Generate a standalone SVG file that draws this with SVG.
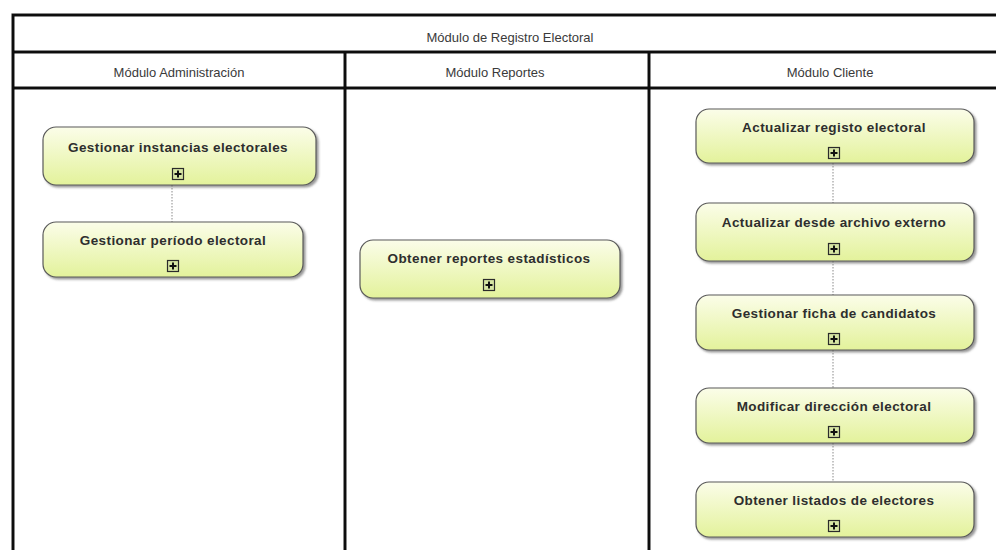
<svg xmlns="http://www.w3.org/2000/svg" width="996" height="550" viewBox="0 0 996 550">
  <defs>
    <linearGradient id="nodeFill" x1="0" y1="0" x2="0" y2="1">
      <stop offset="0" stop-color="#fbfde9"/>
      <stop offset="1" stop-color="#e3f29b"/>
    </linearGradient>
    <filter id="shadow" x="-5%" y="-10%" width="115%" height="130%">
      <feDropShadow dx="2" dy="2" stdDeviation="1.2" flood-color="#444" flood-opacity="0.55"/>
    </filter>
    <filter id="soft" x="-1%" y="-1%" width="102%" height="102%">
      <feGaussianBlur stdDeviation="0.5"/>
    </filter>
    <!-- expand marker: small boxed plus sign -->
    <g id="expand">
      <rect x="-5.5" y="-5.5" width="11" height="11" fill="#d7e6a4" stroke="#2b2b2b" stroke-width="1.2"/>
      <path d="M-3.5 0H3.5M0 -3.5V3.5" stroke="#111" stroke-width="2"/>
    </g>
  </defs>
  <style>
    .frame { fill: none; stroke: #111; stroke-width: 3; }
    .hdr { font-family: "Liberation Sans", Arial, sans-serif; font-size: 13px; fill: #3a3a3a; text-anchor: middle; }
    .node rect.box { fill: url(#nodeFill); stroke: #5a5a5a; stroke-width: 1.2; filter: url(#shadow); }
    .node text { font-family: "Liberation Sans", Arial, sans-serif; font-weight: bold; font-size: 13.5px; letter-spacing: 0.4px; fill: #2e2e2e; text-anchor: middle; }
    .link { stroke: #8a8a8a; stroke-width: 1; stroke-dasharray: 1.5 1.5; fill: none; }
  </style>

  <rect width="996" height="550" fill="#ffffff"/>

  <!-- pool and lane frame -->
  <g id="frame" filter="url(#soft)">
    <path class="frame" d="M13 552V15H1000"/>
    <path class="frame" d="M13 52H1000M13 88H1000"/>
    <path class="frame" d="M345 52V552M649 52V552"/>
  </g>

  <g id="headers">
    <text class="hdr" x="510" y="42">Módulo de Registro Electoral</text>
    <text class="hdr" x="179" y="77">Módulo Administración</text>
    <text class="hdr" x="495" y="77">Módulo Reportes</text>
    <text class="hdr" x="830" y="77">Módulo Cliente</text>
  </g>

  <!-- connectors -->
  <g id="connectors">
    <line class="link" x1="172" y1="185" x2="172" y2="222"/>
    <line class="link" x1="833" y1="163" x2="833" y2="203"/>
    <line class="link" x1="833" y1="261" x2="833" y2="295"/>
    <line class="link" x1="833" y1="350" x2="833" y2="388"/>
    <line class="link" x1="833" y1="443" x2="833" y2="482"/>
  </g>

  <!-- Módulo Administración -->
  <g id="gestionar-instancias" class="node">
    <rect class="box" x="43" y="127" width="273" height="58" rx="13"/>
    <text x="178" y="152">Gestionar instancias electorales</text>
    <use href="#expand" x="178" y="174"/>
  </g>
  <g id="gestionar-periodo" class="node">
    <rect class="box" x="43" y="222" width="260" height="55" rx="13"/>
    <text x="173" y="245">Gestionar período electoral</text>
    <use href="#expand" x="173" y="266"/>
  </g>

  <!-- Módulo Reportes -->
  <g id="obtener-reportes" class="node">
    <rect class="box" x="360" y="240" width="260" height="58" rx="13"/>
    <text x="489" y="263">Obtener reportes estadísticos</text>
    <use href="#expand" x="489" y="285"/>
  </g>

  <!-- Módulo Cliente -->
  <g id="actualizar-registro" class="node">
    <rect class="box" x="696" y="109" width="278" height="54" rx="13"/>
    <text x="834" y="132">Actualizar registo electoral</text>
    <use href="#expand" x="834" y="153"/>
  </g>
  <g id="actualizar-archivo" class="node">
    <rect class="box" x="696" y="203" width="278" height="58" rx="13"/>
    <text x="834" y="227">Actualizar desde archivo externo</text>
    <use href="#expand" x="834" y="249"/>
  </g>
  <g id="gestionar-ficha" class="node">
    <rect class="box" x="696" y="295" width="278" height="55" rx="13"/>
    <text x="834" y="318">Gestionar ficha de candidatos</text>
    <use href="#expand" x="834" y="339"/>
  </g>
  <g id="modificar-direccion" class="node">
    <rect class="box" x="696" y="388" width="278" height="55" rx="13"/>
    <text x="834" y="411">Modificar dirección electoral</text>
    <use href="#expand" x="834" y="432"/>
  </g>
  <g id="obtener-listados" class="node">
    <rect class="box" x="696" y="482" width="278" height="55" rx="13"/>
    <text x="834" y="505">Obtener listados de electores</text>
    <use href="#expand" x="834" y="526"/>
  </g>
</svg>
